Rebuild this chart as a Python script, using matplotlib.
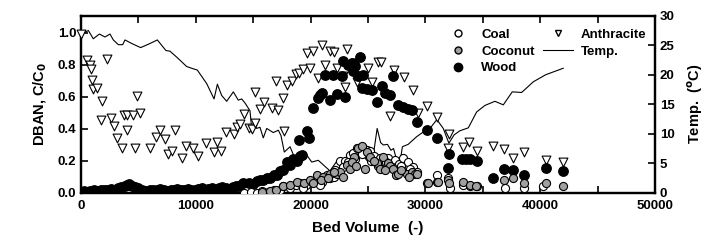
import matplotlib.pyplot as plt
from matplotlib.ticker import MultipleLocator
from matplotlib.lines import Line2D

plt.rcParams['font.family'] = ['Liberation Sans', 'DejaVu Sans']
plt.rcParams['font.weight'] = 'bold'

# Anthracite (open down triangles)
anth_x = [0, 550, 760, 900, 960, 1050, 1420, 1830, 1715, 2290, 2585, 2840, 3140, 3530,
          3720, 3990, 4550, 4010, 5130, 4850, 4690, 6000, 6550, 6840, 7300, 8180, 7590,
          7890, 8760, 9160, 9770, 10180, 10900, 11560, 11860, 12200, 12620, 13300, 13560,
          13880, 14220, 14650, 14920, 15150, 15150, 15600, 15950, 16610, 17190, 17700,
          16960, 17620, 17920, 18350, 18700, 18990, 19360, 19950, 19730, 20230, 20650,
          20960, 21690, 22000, 23140, 21250, 22270, 22850, 23000, 24010, 23900, 25030,
          25320, 25900, 26150, 27230, 28130, 28890, 26940, 29380, 30140, 31050, 32100,
          31970, 33300, 33770, 34470, 35920, 36880, 37660, 38620, 40520, 41980]
anth_y = [0.99, 0.83, 0.80, 0.775, 0.705, 0.65, 0.655, 0.575, 0.452, 0.835, 0.467, 0.418,
          0.34, 0.282, 0.488, 0.488, 0.488, 0.392, 0.50, 0.606, 0.282, 0.282, 0.348, 0.394,
          0.333, 0.394, 0.245, 0.26, 0.217, 0.29, 0.282, 0.228, 0.31, 0.256, 0.316, 0.263,
          0.382, 0.365, 0.412, 0.43, 0.49, 0.402, 0.398, 0.435, 0.63, 0.525, 0.567, 0.532,
          0.52, 0.383, 0.696, 0.59, 0.675, 0.70, 0.74, 0.75, 0.773, 0.78, 0.873, 0.886,
          0.718, 0.925, 0.883, 0.88, 0.896, 0.80, 0.78, 0.727, 0.66, 0.69, 0.81, 0.78,
          0.69, 0.815, 0.815, 0.764, 0.725, 0.644, 0.482, 0.498, 0.544, 0.475, 0.365,
          0.28, 0.287, 0.315, 0.258, 0.294, 0.275, 0.217, 0.252, 0.203, 0.194]

# Wood (filled circles)
wood_x = [0, 250, 500, 800, 1100, 1400, 1700, 2000, 2300, 2600, 2900, 3200, 3500, 3800,
          4000, 4200, 4400, 4700, 5000, 5300, 5600, 6000, 6300, 6600, 6900, 7200, 7500,
          7800, 8100, 8400, 8700, 9000, 9300, 9600, 9900, 10200, 10500, 10800, 11100,
          11400, 11700, 12000, 12300, 12600, 12900, 13200, 13500, 13800,
          14140, 14600, 15010, 15300, 15600, 15880, 16200, 16460, 16800, 17050, 17300,
          17620, 17920, 18210, 18450, 18790, 19080, 19220, 18950, 19650, 19900, 20230,
          20670, 20820, 20960, 21250, 21690, 21980, 22270, 22700, 22990, 22850, 23280,
          23580, 23720, 23870, 24300, 24150, 24590, 24450, 24890, 25320, 25760, 26190,
          26500, 26910, 27200, 27640, 28080, 28450, 28850, 29240, 30120, 30980, 32050,
          32000, 33200, 33550, 33900, 34470, 35920, 36880, 37660, 38620, 40500, 41960]
wood_y = [0.005, 0.01, 0.005, 0.01, 0.015, 0.01, 0.02, 0.015, 0.02, 0.025, 0.02, 0.03,
          0.035, 0.04, 0.05, 0.055, 0.045, 0.035, 0.03, 0.02, 0.01, 0.015, 0.02, 0.015,
          0.025, 0.02, 0.01, 0.015, 0.02, 0.025, 0.015, 0.02, 0.025, 0.02, 0.015, 0.025,
          0.03, 0.02, 0.025, 0.03, 0.02, 0.03, 0.035, 0.03, 0.025, 0.035, 0.04, 0.045,
          0.06, 0.06, 0.055, 0.075, 0.08, 0.08, 0.09, 0.092, 0.11, 0.11, 0.135,
          0.144, 0.19, 0.175, 0.21, 0.196, 0.23, 0.237, 0.33, 0.385, 0.345, 0.53,
          0.59, 0.61, 0.625, 0.735, 0.58, 0.735, 0.62, 0.727, 0.60, 0.822, 0.80,
          0.81, 0.76, 0.79, 0.85, 0.727, 0.735, 0.654, 0.65, 0.645, 0.57, 0.664,
          0.625, 0.61, 0.727, 0.55, 0.537, 0.525, 0.52, 0.44, 0.392, 0.34, 0.245,
          0.152, 0.213, 0.213, 0.208, 0.196, 0.092, 0.148, 0.145, 0.113, 0.154, 0.133]

# Coal (open circles)
coal_x = [14200, 14800, 15300, 15800, 16300, 16800, 17300, 17620, 18200, 18700, 19080,
          19600, 20100, 20530, 21000, 21690, 22100, 22560, 23000, 23430, 23700, 24010,
          24300, 24600, 24900, 25170, 25500, 26050, 26400, 26770, 27350, 27700, 28080,
          28500, 28950, 30110, 30980, 32000, 32140, 33300, 33880, 34470, 36940, 38620,
          40280, 19300, 20800, 21400, 22000, 22800, 23300, 23900, 24500, 25300, 25900,
          26600, 27100, 27900, 28700, 29300]
coal_y = [0.0, 0.005, 0.0, 0.01, 0.005, 0.02, 0.015, 0.04, 0.03, 0.05, 0.06, 0.05, 0.07,
          0.08, 0.07, 0.09, 0.14, 0.196, 0.20, 0.237, 0.25, 0.277, 0.26, 0.28, 0.27, 0.26,
          0.23, 0.215, 0.19, 0.215, 0.205, 0.18, 0.215, 0.19, 0.163, 0.06, 0.11, 0.09,
          0.03, 0.05, 0.045, 0.04, 0.03, 0.03, 0.04, 0.03, 0.05, 0.11, 0.10, 0.16, 0.19,
          0.21, 0.24, 0.20, 0.17, 0.19, 0.16, 0.17, 0.15, 0.13]

# Coconut (grey circles)
coco_x = [15800, 16460, 17000, 17620, 18200, 18790, 19400, 19950, 20530, 21110, 21690,
          22270, 22560, 23140, 23430, 23800, 24160, 24450, 24740, 24890, 25170, 25760,
          26050, 26340, 26770, 26910, 27200, 27470, 27640, 28370, 28800, 29090, 29240,
          30260, 31040, 31130, 32000, 32080, 33300, 33880, 34400, 36880, 37660, 38620,
          40480, 41960, 20200, 20900, 21500, 22000, 22800, 23600, 24000, 25500, 26500,
          27900, 28600]
coco_y = [0.005, 0.01, 0.02, 0.04, 0.05, 0.07, 0.06, 0.08, 0.11, 0.10, 0.12, 0.12, 0.13,
          0.173, 0.15, 0.225, 0.277, 0.29, 0.15, 0.256, 0.225, 0.183, 0.15, 0.225, 0.183,
          0.17, 0.15, 0.11, 0.12, 0.12, 0.13, 0.12, 0.12, 0.06, 0.07, 0.07, 0.08, 0.06,
          0.07, 0.05, 0.045, 0.08, 0.09, 0.06, 0.06, 0.04, 0.06, 0.08, 0.09, 0.13, 0.10,
          0.19, 0.17, 0.20, 0.14, 0.14, 0.10]

# Temperature line (right axis)
temp_x = [0, 350, 640, 1070, 1600, 2090, 2525, 2815, 3250, 3630, 3830, 4415, 5200, 6010,
          6650, 7400, 7750, 8330, 9200, 9790, 10130, 10950, 11590, 11880, 12250, 12690,
          13270, 13700, 14000, 14290, 14720, 14870, 15100, 15300, 15590, 15880, 16180,
          16750, 17190, 17420, 17710, 18210, 18640, 19220, 19660, 20100, 20670, 21690,
          22410, 22900, 23500, 24010, 24450, 24890, 25400, 25800, 26100, 26340, 26700,
          27000, 27230, 27700, 28000, 28500, 29240, 29820, 30400, 31000, 31560, 32050,
          32500, 33000, 33740, 34470, 35190, 36060, 36790, 37570, 38390, 39400, 40480, 42010]
temp_y = [27.5, 27.2, 27.5, 26.1, 26.9, 26.4, 26.9, 25.9, 25.1, 25.1, 25.9, 25.3, 24.6,
          25.3, 25.9, 24.1, 24.0, 23.0, 21.4, 21.0, 20.8, 18.5, 15.9, 18.4, 16.5, 15.5,
          17.1, 15.7, 15.9, 15.2, 13.9, 10.9, 12.1, 10.9, 11.1, 9.3, 10.9, 10.2, 10.6, 9.7,
          6.9, 7.8, 5.8, 5.2, 6.4, 5.2, 5.5, 3.7, 5.7, 5.1, 6.5, 6.1, 6.7, 5.5, 5.5, 10.9,
          8.5, 8.1, 8.2, 7.2, 7.5, 4.0, 7.8, 8.2, 9.5, 10.3, 10.9, 12.4, 10.9, 8.4, 9.8,
          10.5, 11.0, 13.7, 14.8, 15.5, 14.9, 17.1, 17.0, 18.8, 20.0, 21.1]

fig, ax = plt.subplots(figsize=(7.15, 2.5), dpi=100)
fig.subplots_adjust(left=0.1133, right=0.916, bottom=0.229, top=0.937)
ax2 = ax.twinx()

ax2.plot(temp_x, temp_y, color="black", linewidth=0.8)
ax.scatter(anth_x, anth_y, marker="v", s=40, facecolors="white", edgecolors="black",
           linewidths=0.8, zorder=3, clip_on=False)
ax.scatter(wood_x, wood_y, marker="o", s=46, color="black", zorder=4)
ax.scatter(coal_x, coal_y, marker="o", s=34, facecolors="white", edgecolors="black",
           linewidths=0.8, zorder=5)
ax.scatter(coco_x, coco_y, marker="o", s=34, facecolors="#a0a0a0", edgecolors="black",
           linewidths=0.8, zorder=5)
ax.set_zorder(ax2.get_zorder() + 1)
ax.patch.set_visible(False)

# Settings
ax.set_xlim(0, 50000)
ax.set_ylim(0, 1.106)
ax2.set_ylim(0, 30)
ax.xaxis.set_major_locator(MultipleLocator(10000))
ax.xaxis.set_minor_locator(MultipleLocator(5000))
ax.yaxis.set_major_locator(MultipleLocator(0.2))
ax2.yaxis.set_major_locator(MultipleLocator(5))
ax.yaxis.set_major_formatter(plt.FormatStrFormatter("%.1f"))
ax.tick_params(axis="x", which="both", direction="in", top=True, length=5, width=1.2,
               labelsize=9.5, pad=5)
ax.tick_params(axis="y", direction="in", length=5, width=1.2, labelsize=9.5)
ax2.tick_params(axis="y", direction="in", length=5, width=1.2, labelsize=9.5)
for a in (ax, ax2):
    for sp in a.spines.values():
        sp.set_linewidth(1.6)

ax.set_xlabel("Bed Volume  (-)", fontsize=11, fontweight="bold", labelpad=7)
ax.set_ylabel("DBAN, C/C$_\\mathbf{0}$", fontsize=10.5, fontweight="bold", labelpad=6)
ax2.set_ylabel("Temp.  ($^\\mathbf{o}$C)", fontsize=10.5, fontweight="bold", labelpad=8)

handles = [
    Line2D([], [], marker="o", linestyle="none", markerfacecolor="white",
           markeredgecolor="black", markersize=5),
    Line2D([], [], marker="o", linestyle="none", markerfacecolor="#a0a0a0",
           markeredgecolor="black", markersize=5),
    Line2D([], [], marker="o", linestyle="none", color="black", markersize=6),
    Line2D([], [], marker="v", linestyle="none", markerfacecolor="white",
           markeredgecolor="black", markersize=5),
    Line2D([], [], color="black", linewidth=0.8),
]
labels = ["Coal", "Coconut", "Wood", "Anthracite", "Temp."]
ax.legend(handles, labels, ncol=2, loc="upper left", bbox_to_anchor=(0.631, 0.928),
          frameon=False, fontsize=9.5, handlelength=2.3, handletextpad=0.6,
          columnspacing=0.6, labelspacing=0.35, borderaxespad=0, borderpad=0)

plt.savefig("out.png", dpi=100)
